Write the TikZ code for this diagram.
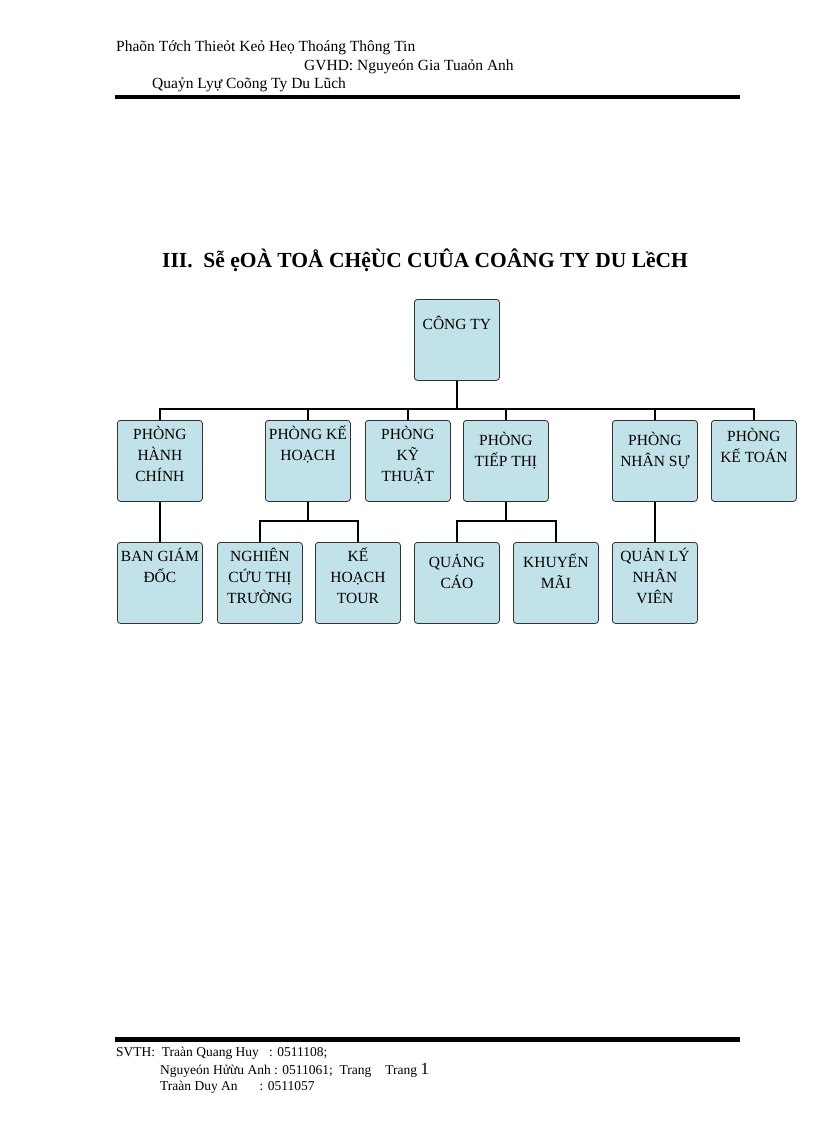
\documentclass[tikz,border=0pt]{standalone}
\usepackage{fontspec}
\setmainfont{Liberation Serif}
\definecolor{boxfill}{RGB}{192,226,232}
\begin{document}
\begin{tikzpicture}[x=1pt,y=-1pt,
  bx/.style={draw=black!80,line width=0.8pt,fill=boxfill,rounded corners=3pt,minimum width=85pt,minimum height=81pt,inner sep=0pt,align=center,font=\fontsize{15.5}{21}\selectfont},
  cn/.style={line width=2.2pt},
  txt/.style={anchor=west,inner sep=0pt,font=\fontsize{15.5}{18}\selectfont}]
\useasboundingbox (0,0) rectangle (816,1123);
% header
\node[txt] (h1) at (116,48) {Phaõn Tớch Thieỏt Keỏ Heọ Thoáng Thông Tin};
\node[txt] (h2) at (304,67) {GVHD:\ Nguyeón Gia Tuaỏn Anh};
\node[txt] (h3) at (152,85) {Quaỷn Lyự Coõng Ty Du Lũch};
\fill (115,95) rectangle (740,99.5);
\node[anchor=west,inner sep=0pt,font=\bfseries\fontsize{21.5}{24}\selectfont] (title) at (162,260) {III.\ \ Sễ ẹOÀ TOÅ CHệÙC CUÛA COÂNG TY DU LềCH};
% nodes
\node[bx,anchor=north west,text depth=34pt] (ct) at (414,299) {CÔNG TY};
\node[bx,anchor=north west,text depth=14pt] (hc) at (117,420) {PHÒNG\\HÀNH\\CHÍNH};
\node[bx,anchor=north west,text depth=36pt] (kh) at (265,420) {PHÒNG KẾ\\HOẠCH};
\node[bx,anchor=north west,text depth=14pt] (kt) at (365,420) {PHÒNG\\KỸ\\THUẬT};
\node[bx,anchor=north west,text depth=24pt] (tt) at (463,420) {PHÒNG\\TIẾP THỊ};
\node[bx,anchor=north west,text depth=24pt] (ns) at (612,420) {PHÒNG\\NHÂN SỰ};
\node[bx,anchor=north west,text depth=32pt] (ktoan) at (711,420) {PHÒNG\\KẾ TOÁN};
\node[bx,anchor=north west,text depth=36pt] (bgd) at (117,542) {BAN GIÁM\\ĐỐC};
\node[bx,anchor=north west,text depth=14pt] (nc) at (217,542) {NGHIÊN\\CỨU THỊ\\TRƯỜNG};
\node[bx,anchor=north west,text depth=14pt] (tour) at (315,542) {KẾ\\HOẠCH\\TOUR};
\node[bx,anchor=north west,text depth=24pt] (qc) at (414,542) {QUẢNG\\CÁO};
\node[bx,anchor=north west,text depth=24pt] (km) at (513,542) {KHUYẾN\\MÃI};
\node[bx,anchor=north west,text depth=14pt] (ql) at (612,542) {QUẢN LÝ\\NHÂN\\VIÊN};
% connectors
\coordinate (busL) at (160,409);
\draw[cn] (ct.south) -- (ct.south |- busL);
\draw[cn] (hc.north) -- (hc.north |- busL) -- (ktoan.north |- busL) -- (ktoan.north);
\foreach \n in {kh,kt,tt,ns} \draw[cn] (\n.north) -- (\n.north |- busL);
\draw[cn] (hc.south) -- (bgd.north);
\draw[cn] (ns.south) -- (ql.north);
\coordinate (sub) at (0,521);
\draw[cn] (kh.south) -- (kh.south |- sub);
\draw[cn] (nc.north) -- (nc.north |- sub) -- (tour.north |- sub) -- (tour.north);
\draw[cn] (tt.south) -- (tt.south |- sub);
\draw[cn] (qc.north) -- (qc.north |- sub) -- (km.north |- sub) -- (km.north);
% footer
\fill (115,1037) rectangle (740,1041.5);
\node[txt,font=\fontsize{13.5}{15}\selectfont] (f1) at (116,1053) {SVTH:\ \ Traàn Quang Huy\ \ \ : 0511108;};
\node[txt,font=\fontsize{13.5}{15}\selectfont] (f2) at (160,1070) {Nguyeón Hửừu Anh : 0511061;\ \ Trang\hspace{14pt}Trang {\fontsize{17}{18}\selectfont 1}};
\node[txt,font=\fontsize{13.5}{15}\selectfont] (f3) at (160,1087) {Traàn Duy An\hspace{22pt}: 0511057};
\end{tikzpicture}
\end{document}
